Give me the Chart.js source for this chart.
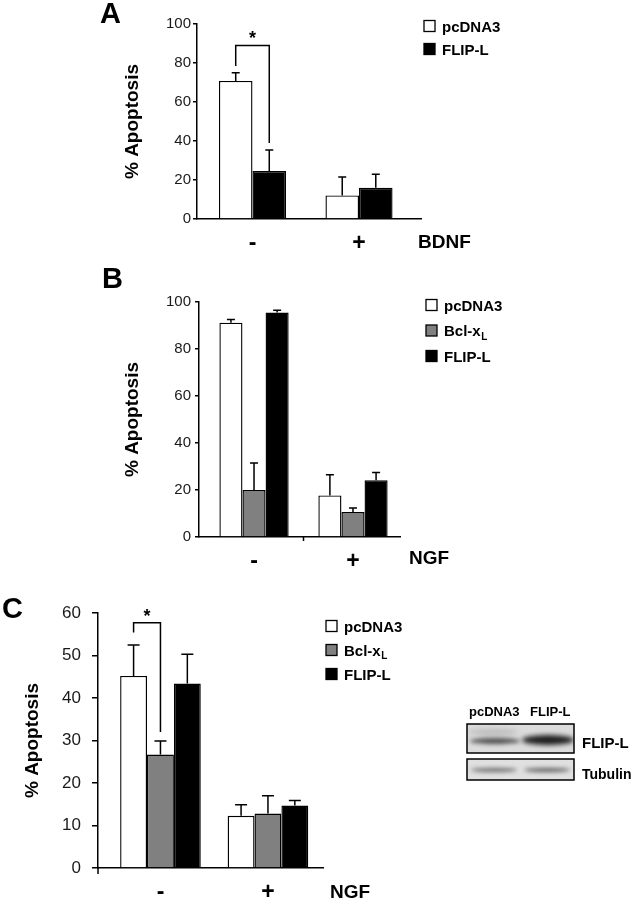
<!DOCTYPE html>
<html>
<head>
<meta charset="utf-8">
<script src="https://cdn.jsdelivr.net/npm/chart.js@4.4.1/dist/chart.umd.min.js"></script>
<style>
  body { margin: 0; background: #fff; }
  #wrap { position: relative; width: 632px; height: 899px; }
  canvas { position: absolute; }
</style>
</head>
<body>
<div id="wrap">
  <canvas id="chartA" width="632" height="262" style="left:0;top:0"></canvas>
  <canvas id="chartB" width="632" height="308" style="left:0;top:262px"></canvas>
  <canvas id="chartC" width="632" height="329" style="left:0;top:570px"></canvas>
  <canvas id="blot" width="192" height="110" style="left:440px;top:695px"></canvas>
</div>
<script>
const FONT = "'Liberation Sans', Arial, sans-serif";
Chart.defaults.font.family = FONT;
Chart.defaults.color = "#111";

// categories (growth factor absent / present)
const groups = ["-", "+"];

// panel A - BDNF
const aPcdna = [70.8, 12.1];
const aPcdnaErr = [4.2, 9.4];
const aFlip = [24.6, 16.0];
const aFlipErr = [10.8, 7.0];

// panel B - NGF
const bPcdna = [91.2, 17.7];
const bPcdnaErr = [1.4, 8.8];
const bBcl = [20.0, 10.6];
const bBclErr = [11.5, 1.7];
const bFlip = [95.5, 24.1];
const bFlipErr = [1.0, 3.3];

// panel C - NGF
const cPcdna = [45.2, 12.3];
const cPcdnaErr = [7.3, 2.6];
const cBcl = [26.7, 12.8];
const cBclErr = [3.2, 4.2];
const cFlip = [43.4, 14.7];
const cFlipErr = [6.9, 1.2];

const WHITE = "#ffffff", GRAY = "#808080", BLACK = "#000000";

function pts(vals) {
    return vals.map((v, i) => ({ x: i + 1, y: v }));
}

function dataset(label, vals, errs, color, sub) {
    return {
        label: label,
        subLabel: sub || "",
        data: pts(vals),
        errors: errs,
        backgroundColor: color,
        borderColor: "#000",
        borderWidth: 1.4,
        borderSkipped: "start"
    };
}

// error bars, significance bracket, legend, panel letter and axis name
const decor = {
    id: "decor",
    afterDatasetsDraw(chart, args, opts) {
        const ctx = chart.ctx;
        const y = chart.scales.y, x = chart.scales.x;
        ctx.save();
        ctx.strokeStyle = "#000";
        ctx.lineWidth = 1.5;

        chart.data.datasets.forEach((ds, di) => {
            chart.getDatasetMeta(di).data.forEach((bar, i) => {
                const top = y.getPixelForValue(ds.data[i].y + ds.errors[i]);
                ctx.beginPath();
                ctx.moveTo(bar.x, bar.y);
                ctx.lineTo(bar.x, top);
                ctx.moveTo(bar.x - opts.cap, top);
                ctx.lineTo(bar.x + opts.cap, top);
                ctx.stroke();
            });
        });

        if (opts.bracket) {
            const b = opts.bracket;
            const x1 = chart.getDatasetMeta(b.from).data[0].x;
            const x2 = chart.getDatasetMeta(b.to).data[0].x;
            const yt = y.getPixelForValue(b.top);
            ctx.beginPath();
            ctx.moveTo(x1, y.getPixelForValue(b.leftEnd));
            ctx.lineTo(x1, yt);
            ctx.lineTo(x2, yt);
            ctx.lineTo(x2, y.getPixelForValue(b.rightEnd));
            ctx.stroke();
            ctx.fillStyle = "#000";
            ctx.font = "bold 18px " + FONT;
            ctx.textAlign = "center";
            ctx.textBaseline = "alphabetic";
            ctx.fillText("*", (x1 + x2) / 2, yt - 1);
        }

        if (opts.midTick) {
            const px = x.getPixelForValue(1.5);
            ctx.beginPath();
            ctx.moveTo(px, y.bottom);
            ctx.lineTo(px, y.bottom + 4);
            ctx.stroke();
        }
        if (opts.axisExtend) {
            ctx.beginPath();
            ctx.moveTo(x.left, y.bottom);
            ctx.lineTo(x.left, y.bottom + opts.axisExtend);
            ctx.stroke();
        }

        // legend
        ctx.textAlign = "left";
        ctx.textBaseline = "alphabetic";
        chart.data.datasets.forEach((ds, di) => {
            const cy = opts.legend.rows[di];
            const bx = opts.legend.x;
            ctx.fillStyle = ds.backgroundColor;
            ctx.fillRect(bx, cy - 5.5, 11, 11);
            ctx.lineWidth = 1.3;
            ctx.strokeRect(bx, cy - 5.5, 11, 11);
            ctx.fillStyle = "#000";
            ctx.font = "bold 15px " + FONT;
            const tx = bx + 18;
            ctx.fillText(ds.label, tx, cy + 5.5);
            if (ds.subLabel) {
                const w = ctx.measureText(ds.label).width;
                ctx.font = "bold 10px " + FONT;
                ctx.fillText(ds.subLabel, tx + w + 0.5, cy + 9);
            }
        });

        // panel letter
        ctx.font = "bold 29px " + FONT;
        ctx.fillText(opts.letter.text, opts.letter.x, opts.letter.y);

        // factor name at the end of the x axis
        ctx.font = "bold 19px " + FONT;
        ctx.fillText(opts.axisName.text, opts.axisName.x, opts.axisName.y);
        ctx.restore();
    }
};

function makePanel(id, datasets, p) {
    return new Chart(document.getElementById(id), {
        type: "bar",
        data: { datasets: datasets },
        options: {
            responsive: false,
            animation: false,
            devicePixelRatio: 1,
            layout: { padding: p.pad },
            datasets: { bar: { categoryPercentage: p.catPct, barPercentage: 1 } },
            scales: {
                x: {
                    type: "linear",
                    offset: false,
                    min: p.xMin,
                    max: p.xMax,
                    afterFit: s => { s.height = p.xHeight; },
                    grid: { display: false, drawTicks: false },
                    border: { color: "#000", width: 1.5 },
                    ticks: {
                        stepSize: 1,
                        includeBounds: false,
                        autoSkip: false,
                        maxRotation: 0,
                        padding: 11,
                        color: "#000",
                        font: { size: 23, weight: "bold" },
                        callback: v => groups[v - 1] || ""
                    }
                },
                y: {
                    min: 0,
                    max: p.yMax,
                    afterFit: s => { s.width = p.yWidth; },
                    grid: { drawOnChartArea: false, tickLength: p.tickLen, color: "#000", lineWidth: 1.5 },
                    border: { color: "#000", width: 1.5 },
                    ticks: { stepSize: p.yStep, padding: p.tickPad, color: "#1a1a1a", font: { size: p.tickSize } },
                    title: {
                        display: true,
                        text: "% Apoptosis",
                        color: "#000",
                        font: { size: 19, weight: "bold" },
                        padding: { top: 11.5, bottom: 0 }
                    }
                }
            },
            plugins: {
                legend: { display: false },
                tooltip: { enabled: false },
                decor: p.decor
            }
        },
        plugins: [decor]
    });
}

// Panel A
makePanel("chartA", [
    dataset("pcDNA3", aPcdna, aPcdnaErr, WHITE),
    dataset("FLIP-L", aFlip, aFlipErr, BLACK)
], {
    pad: { left: 110, right: 211, top: 24, bottom: 0 },
    yWidth: 87, xHeight: 43,
    xMin: 0.479, xMax: 2.582, catPct: 0.63,
    yMax: 100, yStep: 20, tickLen: 4, tickPad: 2, tickSize: 15,
    decor: {
        cap: 4,
        bracket: { from: 0, to: 1, top: 89, leftEnd: 78.5, rightEnd: 39 },
        legend: { x: 424, rows: [26, 49] },
        letter: { text: "A", x: 100, y: 23 },
        axisName: { text: "BDNF", x: 418, y: 248 }
    }
});

// Panel B
makePanel("chartB", [
    dataset("pcDNA3", bPcdna, bPcdnaErr, WHITE),
    dataset("Bcl-x", bBcl, bBclErr, GRAY, "L"),
    dataset("FLIP-L", bFlip, bFlipErr, BLACK)
], {
    pad: { left: 110, right: 232, top: 40, bottom: 0 },
    yWidth: 89, xHeight: 33,
    xMin: 0.444, xMax: 2.475, catPct: 0.70,
    yMax: 100, yStep: 20, tickLen: 4, tickPad: 4, tickSize: 15,
    decor: {
        cap: 4,
        midTick: true,
        legend: { x: 426, rows: [43, 68.5, 94] },
        letter: { text: "B", x: 102, y: 26 },
        axisName: { text: "NGF", x: 409, y: 302 }
    }
});

// Panel C
makePanel("chartC", [
    dataset("pcDNA3", cPcdna, cPcdnaErr, WHITE),
    dataset("Bcl-x", cBcl, cBclErr, GRAY, "L"),
    dataset("FLIP-L", cFlip, cFlipErr, BLACK)
], {
    pad: { left: 10, right: 309, top: 43, bottom: 0 },
    yWidth: 88, xHeight: 31,
    xMin: 0.419, xMax: 2.512, catPct: 0.75,
    yMax: 60, yStep: 10, tickLen: 6, tickPad: 11, tickSize: 17,
    decor: {
        cap: 6,
        axisExtend: 6,
        bracket: { from: 0, to: 1, top: 57.7, leftEnd: 55.4, rightEnd: 32 },
        legend: { x: 326, rows: [56, 80, 104] },
        letter: { text: "C", x: 2, y: 48 },
        axisName: { text: "NGF", x: 330, y: 328 }
    }
});

// western blot inset (picture, not data)
function drawBlot() {
    const ctx = document.getElementById("blot").getContext("2d");
    ctx.fillStyle = "#000";
    ctx.font = "bold 13px " + FONT;
    ctx.fillText("pcDNA3", 29, 21);
    ctx.fillText("FLIP-L", 90, 21);
    ctx.font = "bold 15px " + FONT;
    ctx.fillText("FLIP-L", 142, 53);
    ctx.font = "bold 14px " + FONT;
    ctx.fillText("Tubulin", 142, 84);

    function band(x, y, w, h, color, blur) {
        ctx.save();
        ctx.filter = "blur(" + blur + "px)";
        ctx.fillStyle = color;
        ctx.beginPath();
        ctx.ellipse(x + w / 2, y, w / 2, h / 2, 0, 0, Math.PI * 2);
        ctx.fill();
        ctx.restore();
    }

    // FLIP-L blot
    ctx.save();
    ctx.beginPath();
    ctx.rect(27, 29, 107, 29);
    ctx.clip();
    ctx.fillStyle = "#dcdcdc";
    ctx.fillRect(27, 29, 107, 29);
    band(28, 37, 50, 6, "#bababa", 2.5);
    band(30, 46, 50, 6, "#505050", 2);
    band(82, 45, 52, 10, "#1c1c1c", 2.5);
    ctx.restore();
    ctx.lineWidth = 1.5;
    ctx.strokeStyle = "#000";
    ctx.strokeRect(27, 29, 107, 29);

    // Tubulin blot
    ctx.save();
    ctx.beginPath();
    ctx.rect(27, 64, 107, 21);
    ctx.clip();
    ctx.fillStyle = "#e0e0e0";
    ctx.fillRect(27, 64, 107, 21);
    band(31, 75, 46, 4, "#6a6a6a", 2);
    band(84, 75, 46, 4, "#5e5e5e", 2);
    ctx.restore();
    ctx.strokeRect(27, 64, 107, 21);
}
drawBlot();
</script>
</body>
</html>
